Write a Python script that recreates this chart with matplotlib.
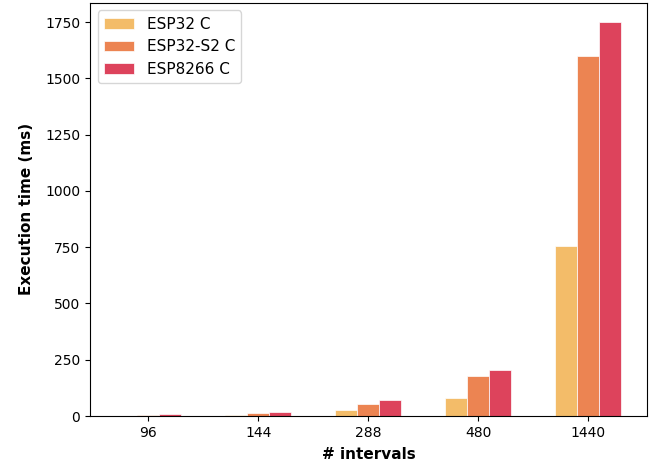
import matplotlib
matplotlib.use('Agg')
import matplotlib.pyplot as plt
import numpy as np

intervals = ['96', '144', '288', '480', '1440']
esp32 = [1, 5, 25, 80, 757]
esp32_s2 = [6, 15, 54, 179, 1598]
esp8266 = [7, 20, 70, 204, 1748]
labels = ['ESP32 C', 'ESP32-S2 C', 'ESP8266 C']
colors = ['#f3bc69', '#ec8452', '#dd435c']

fig = plt.figure(figsize=(6.62, 4.68), dpi=100)
ax = fig.add_axes([0.136, 0.111, 0.841, 0.883])

x = np.arange(len(intervals))
w = 0.2
#三组柱子并排，中间那组对准刻度
for i, (vals, lab, c) in enumerate(zip([esp32, esp32_s2, esp8266], labels, colors)):
    ax.bar(x + (i - 1) * w, vals, w, label=lab, color=c, edgecolor='white', linewidth=0.5)

ax.set_xticks(x)
ax.set_xticklabels(intervals)
ax.set_xlabel('# intervals', fontweight='bold', fontsize=11, labelpad=5)
ax.set_ylabel('Execution time (ms)', fontweight='bold', fontsize=11, labelpad=8)
ax.legend(loc='upper left', fontsize=11)

fig.savefig('out.png')
